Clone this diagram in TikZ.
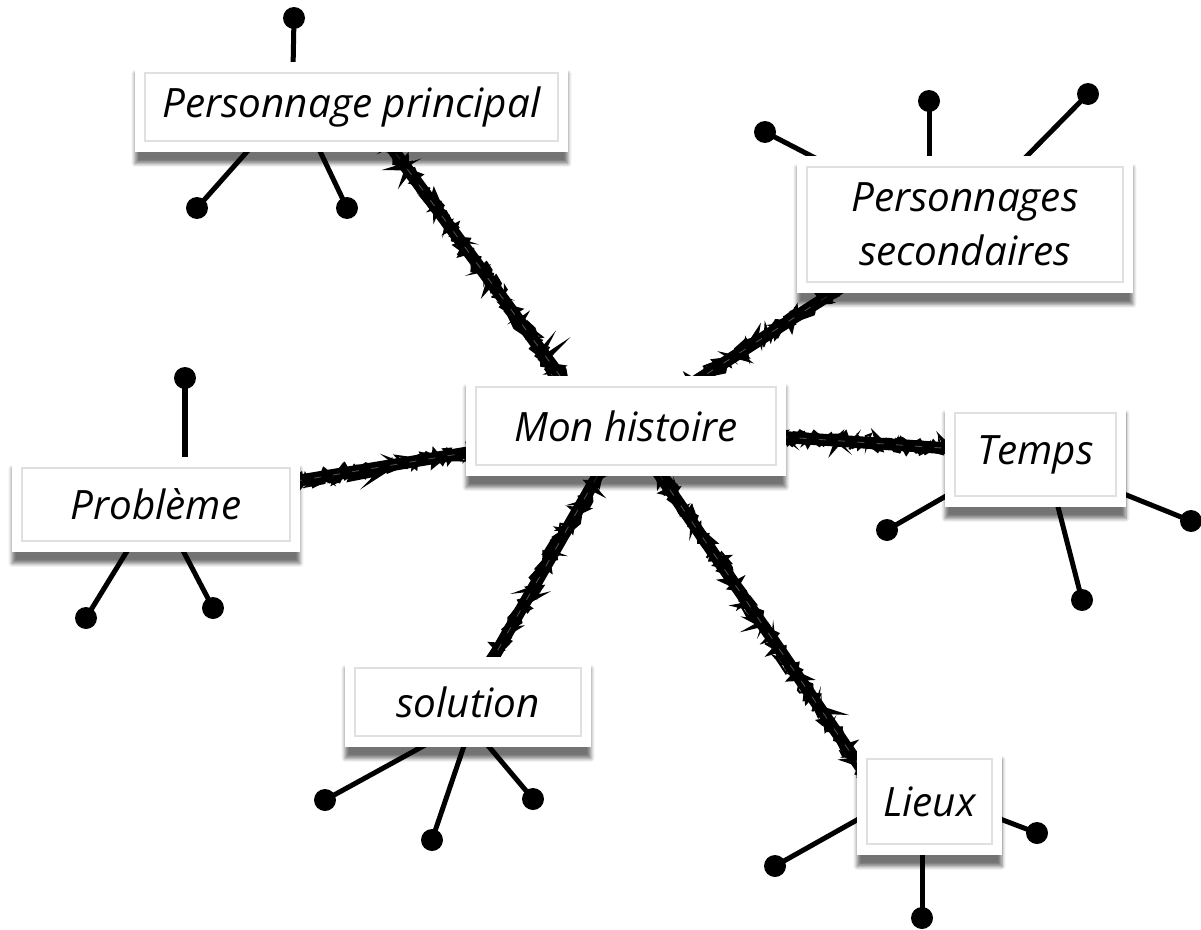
\documentclass[tikz,border=0pt]{standalone}
\usepackage{fontspec}
\setmainfont{Open Sans}
\usetikzlibrary{shadows.blur,decorations.pathmorphing,calc}
\pgfdeclarelayer{bg}
\pgfdeclarelayer{back}
\pgfsetlayers{bg,back,main}
\definecolor{bgc}{RGB}{235,235,235}
\newcommand\brushline[2]{%
  \draw[black, line width=6.8pt] #1 -- #2;
  \draw[black, line width=3pt, decorate, decoration={random steps, segment length=2pt, amplitude=4pt}] #1 -- #2;
  \draw[black, line width=1.2pt, decorate, decoration={random steps, segment length=1.5pt, amplitude=5pt}] #1 -- #2;
  \draw[white, opacity=0.3, line width=0.5pt, dash pattern=on 4pt off 7pt] #1 -- #2;
}
\begin{document}
\begin{tikzpicture}[x=0.02cm,y=-0.02cm,
  card/.style={fill=white, inner sep=0pt, align=center,
    font=\itshape\fontsize{23}{31}\selectfont,
    blur shadow={shadow xshift=0pt, shadow yshift=-6.5pt, shadow opacity=55, shadow blur steps=6},
    path picture={\draw[black!12, line width=0.7pt]
      ([xshift=0.2cm,yshift=-0.22cm]path picture bounding box.north west) rectangle
      ([xshift=-0.2cm,yshift=0.22cm]path picture bounding box.south east);}},
  dot/.style={circle, fill=black, minimum size=0.44cm, inner sep=0pt},
  pend/.style={black, line width=2.85pt}]
\useasboundingbox (0,0) rectangle (1201,930);
\begin{pgfonlayer}{bg}
  \fill[bgc] (0,0) rectangle (1201,930);
\end{pgfonlayer}
% off-page warm-up of the shadow fading
\path[blur shadow={shadow opacity=1}] (-600,-600) rectangle (-580,-580);

% cards
\node[card, minimum width=8.66cm, minimum height=1.8cm] (pp) at (351.5,107) {Personnage principal};
\node[card, minimum width=6.4cm, minimum height=2.0cm] (mh) at (626,426) {Mon histoire};
\node[card, minimum width=6.72cm, minimum height=2.74cm] (ps) at (965,224.5) {Personnages\\secondaires};
\node[card, minimum width=3.62cm, minimum height=2.1cm] (tp) at (1035.5,454.5) {Temps};
\node[card, minimum width=5.76cm, minimum height=1.9cm] (pb) at (156,504.5) {Problème};
\node[card, minimum width=4.92cm, minimum height=1.8cm] (so) at (468,702) {solution};
\node[card, minimum width=2.9cm, minimum height=2.14cm] (li) at (929.5,801.5) {Lieux};

% dots
\node[dot] (pp1) at (294,18) {};
\node[dot] (pp2) at (197,208) {};
\node[dot] (pp3) at (347,208) {};
\node[dot] (ps1) at (765,132) {};
\node[dot] (ps2) at (929,101) {};
\node[dot] (ps3) at (1088,94) {};
\node[dot] (tp1) at (887,530) {};
\node[dot] (tp2) at (1082,600) {};
\node[dot] (tp3) at (1191,521) {};
\node[dot] (pb1) at (185,378) {};
\node[dot] (pb2) at (86,618) {};
\node[dot] (pb3) at (213,608) {};
\node[dot] (so1) at (325,800) {};
\node[dot] (so2) at (432,840) {};
\node[dot] (so3) at (533,799) {};
\node[dot] (li1) at (775,866) {};
\node[dot] (li2) at (1037,833) {};
\node[dot] (li3) at (922,918) {};

% free ends of the pendants (hidden under the cards)
\coordinate (epp1) at (293,70);
\coordinate (epp2) at (252,146);
\coordinate (epp3) at (317,145);
\coordinate (eps1) at (821,161);
\coordinate (eps2) at (929,164);
\coordinate (eps3) at (1021,162);
\coordinate (etp1) at (953,492);
\coordinate (etp2) at (1056,499);
\coordinate (etp3) at (1119,492);
\coordinate (epb1) at (185,465);
\coordinate (epb2) at (132,543);
\coordinate (epb3) at (179,543);
\coordinate (eso1) at (427,744);
\coordinate (eso2) at (466,740);
\coordinate (eso3) at (485,742);
\coordinate (eli1) at (864,816);
\coordinate (eli2) at (995,817);
\coordinate (eli3) at (922,847);

\begin{pgfonlayer}{back}
  \foreach \n in {pp1,pp2,pp3,ps1,ps2,ps3,tp1,tp2,tp3,pb1,pb2,pb3,so1,so2,so3,li1,li2,li3}
    \draw[pend] (\n.center) -- (e\n);
  \pgfmathsetseed{4242}
  \brushline{([shift={(10,0)}]pp.center)}{([shift={(-29,0)}]mh.center)}
  \brushline{(mh.center)}{([shift={(-65,25)}]ps.center)}
  \brushline{(mh.center)}{(tp.center)}
  \brushline{(mh.center)}{(pb.center)}
  \brushline{(mh.center)}{(so.center)}
  \brushline{(mh.center)}{([shift={(-53,-11)}]li.center)}
\end{pgfonlayer}
\end{tikzpicture}
\end{document}
